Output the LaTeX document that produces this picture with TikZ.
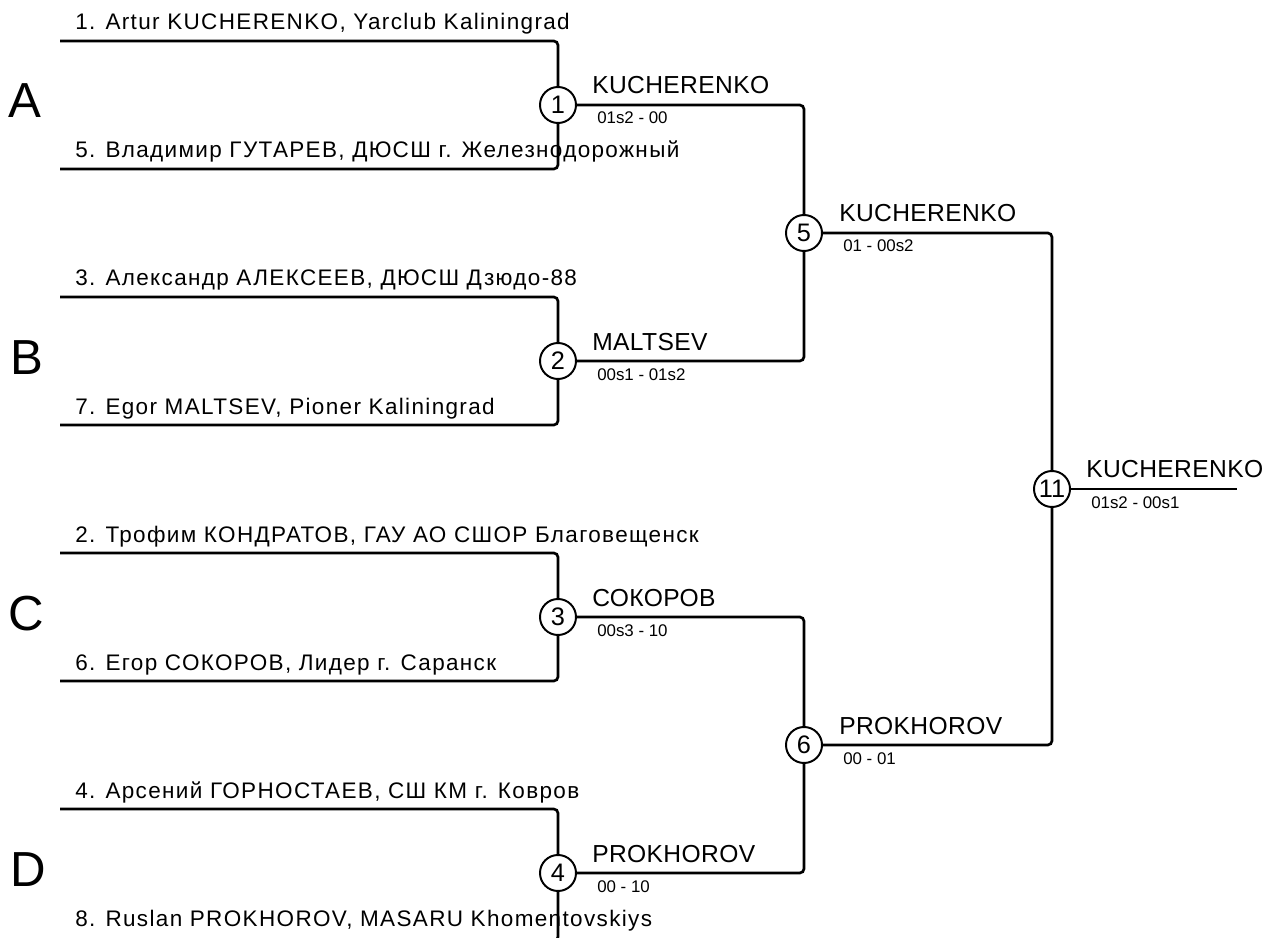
\documentclass[tikz,border=0pt]{standalone}
\usepackage{fontspec}
\setmainfont{Liberation Sans}
\usetikzlibrary{calc,positioning}

\tikzset{
	bline/.style={line width=1.9pt, rounded corners=3pt},
	bout/.style={circle, draw, fill=white, line width=1.4pt, minimum size=0.9cm, inner sep=0pt, font=\fontsize{18}{18}\selectfont},
	player/.style={anchor=base west, inner sep=0pt, font=\fontsize{16}{18}\selectfont\addfontfeatures{LetterSpace=6}},
	winner/.style={anchor=base west, inner sep=0pt, font=\fontsize{17.5}{18}\selectfont\addfontfeatures{LetterSpace=1.5}},
	score/.style={anchor=base west, inner sep=0pt, font=\fontsize{12}{12}\selectfont},
	pool/.style={anchor=base west, inner sep=0pt, font=\fontsize{35}{36}\selectfont}
}

\begin{document}
\begin{tikzpicture}[x=0.025cm, y=-0.025cm]
	\useasboundingbox (0,0) rectangle (1263,938);
	\clip (0,0) rectangle (1263,938);
	
	% Poules
	\node[pool] (pA) at (8,118) {A};
	\node[pool] (pB) at (10,374) {B};
	\node[pool] (pC) at (8,630) {C};
	\node[pool] (pD) at (10,886) {D};
	
	% Combats
	\node[bout] (m1) at (558,105) {1};
	\node[bout] (m2) at (558,361) {2};
	\node[bout] (m3) at (558,617) {3};
	\node[bout] (m4) at (558,873) {4};
	\node[bout] (m5) at (804,233) {5};
	\node[bout] (m6) at (804,745) {6};
	\node[bout] (m11) at (1052,489) {11};
	
	% Judokas
	\coordinate (j1) at (60,41);
	\coordinate (j5) at (60,169);
	\coordinate (j3) at (60,297);
	\coordinate (j7) at (60,425);
	\coordinate (j2) at (60,553);
	\coordinate (j6) at (60,681);
	\coordinate (j4) at (60,809);
	\coordinate (j8) at (60,941);
	\coordinate (fin) at (1237,489);
	
	\node[player] (n1) at (75,30) {1. Artur KUCHERENKO, Yarclub Kaliningrad};
	\node[player] (n5) at (75,158) {5. Владимир ГУТАРЕВ, ДЮСШ г. Железнодорожный};
	\node[player] (n3) at (75,286) {3. Александр АЛЕКСЕЕВ, ДЮСШ Дзюдо-88};
	\node[player] (n7) at (75,414) {7. Egor MALTSEV, Pioner Kaliningrad};
	\node[player] (n2) at (75,542) {2. Трофим КОНДРАТОВ, ГАУ АО СШОР Благовещенск};
	\node[player] (n6) at (75,670) {6. Егор СОКОРОВ, Лидер г. Саранск};
	\node[player] (n4) at (75,798) {4. Арсений ГОРНОСТАЕВ, СШ КМ г. Ковров};
	\node[player] (n8) at (75,926) {8. Ruslan PROKHOROV, MASARU Khomentovskiys};
	
	% Tour 1
	\draw[bline] (j1) -| (m1);
	\draw[bline] (j5) -| (m1);
	\draw[bline] (j3) -| (m2);
	\draw[bline] (j7) -| (m2);
	\draw[bline] (j2) -| (m3);
	\draw[bline] (j6) -| (m3);
	\draw[bline] (j4) -| (m4);
	\draw[bline] (j8) -| (m4);
	
	% Tour 2
	\draw[bline] (m1) -| (m5);
	\draw[bline] (m2) -| (m5);
	\draw[bline] (m3) -| (m6);
	\draw[bline] (m4) -| (m6);
	
	% Finale
	\draw[bline] (m5) -| (m11);
	\draw[bline] (m6) -| (m11);
	\draw[bline] (m11) -- (fin);
	
	% Vainqueurs et scores
	\node[winner] (w1) at ($(m1)+(34,-11)$) {KUCHERENKO};
	\node[score] (s1) at ($(m1)+(39,19)$) {01s2 - 00};
	\node[winner] (w2) at ($(m2)+(34,-11)$) {MALTSEV};
	\node[score] (s2) at ($(m2)+(39,19)$) {00s1 - 01s2};
	\node[winner] (w3) at ($(m3)+(34,-11)$) {СОКОРОВ};
	\node[score] (s3) at ($(m3)+(39,19)$) {00s3 - 10};
	\node[winner] (w4) at ($(m4)+(34,-11)$) {PROKHOROV};
	\node[score] (s4) at ($(m4)+(39,19)$) {00 - 10};
	\node[winner] (w5) at ($(m5)+(35,-11)$) {KUCHERENKO};
	\node[score] (s5) at ($(m5)+(39,19)$) {01 - 00s2};
	\node[winner] (w6) at ($(m6)+(35,-11)$) {PROKHOROV};
	\node[score] (s6) at ($(m6)+(39,19)$) {00 - 01};
	\node[winner] (w11) at ($(m11)+(34,-12)$) {KUCHERENKO};
	\node[score] (s11) at ($(m11)+(39,19)$) {01s2 - 00s1};
\end{tikzpicture}
\end{document}
